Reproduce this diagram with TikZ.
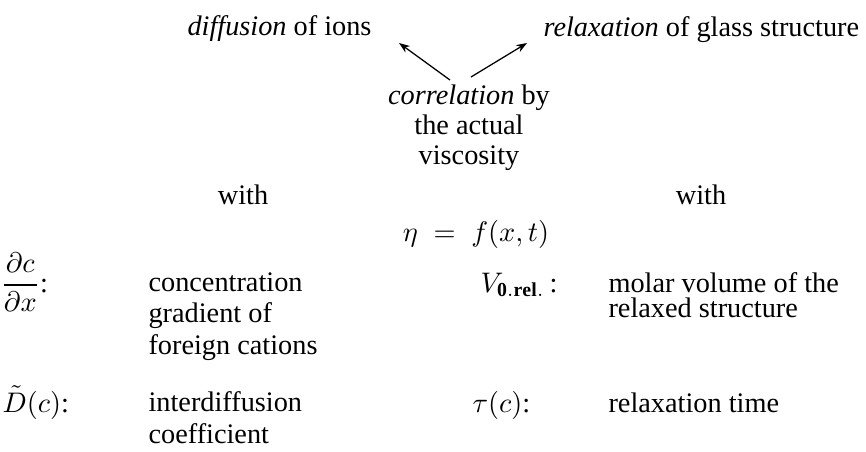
\documentclass[tikz,border=0pt]{standalone}
\usepackage{amsmath}
\usepackage{fontspec}
\setmainfont{Liberation Serif}
\usepackage{tikz}
\usetikzlibrary{arrows.meta,calc}

\begin{document}
\begin{tikzpicture}[
    x=0.3534pt, y=-0.3534pt,
    font=\fontsize{10}{10}\selectfont,
    txt/.style={inner sep=0pt, align=left},
    mid/.style={inner sep=0pt, align=center},
    flow/.style={-{Stealth[length=3.8pt,width=2.8pt]}, line width=0.45pt}]
  \useasboundingbox (0,0) rectangle (866,451);
  % two processes on top
  \node[txt, anchor=base west] (diff) at (187,35) {\textit{diffusion} of ions};
  \node[txt, anchor=base west] (relax) at (543,36) {\textit{relaxation} of glass structure};
  \node[mid, anchor=north, font=\fontsize{10}{10.6}\selectfont] (corr) at (469,84)
    {\textit{correlation} by\\the actual\\viscosity};
  \draw[flow] ($(corr.north)+(-19,-4)$) -- ($(diff.base east)+(27,8)$);
  \draw[flow] ($(corr.north)+(2,-7)$) -- ($(relax.base west)+(-16,7)$);
  \node[txt, anchor=base] (withl) at (243,204) {with};
  \node[txt, anchor=base] (withr) at (701,204) {with};
  \node[txt, anchor=base] (eta) at (476,241) {$\eta\;=\;f(x,t)$};
  % left column: diffusion quantities
  \node[txt, anchor=base west] (dcdx) at (0,292) {$\dfrac{\partial c}{\partial x}$:};
  \node[txt, anchor=base west, font=\fontsize{10}{11}\selectfont] (conctxt) at (148,354)
    {concentration\\gradient of\\foreign cations};
  \node[txt, anchor=base west] (dtil) at (2,412) {$\tilde{D}(c)$:};
  \node[txt, anchor=base west, font=\fontsize{10}{11}\selectfont] (interdiff) at (148,443)
    {interdiffusion\\coefficient};
  % right column: relaxation quantities
  \node[txt, anchor=base west] (vrel) at (480,292) {$V_{\mathbf{0.rel.}}$\,:};
  \node[txt, anchor=base west, font=\fontsize{10}{9}\selectfont] (voltxt) at (608,317.5)
    {molar volume of the\\relaxed structure};
  \node[txt, anchor=base west] (tau) at (472,412) {$\tau(c)$:};
  \node[txt, anchor=base west] (relaxtime) at (608,412) {relaxation time};
\end{tikzpicture}
\end{document}
